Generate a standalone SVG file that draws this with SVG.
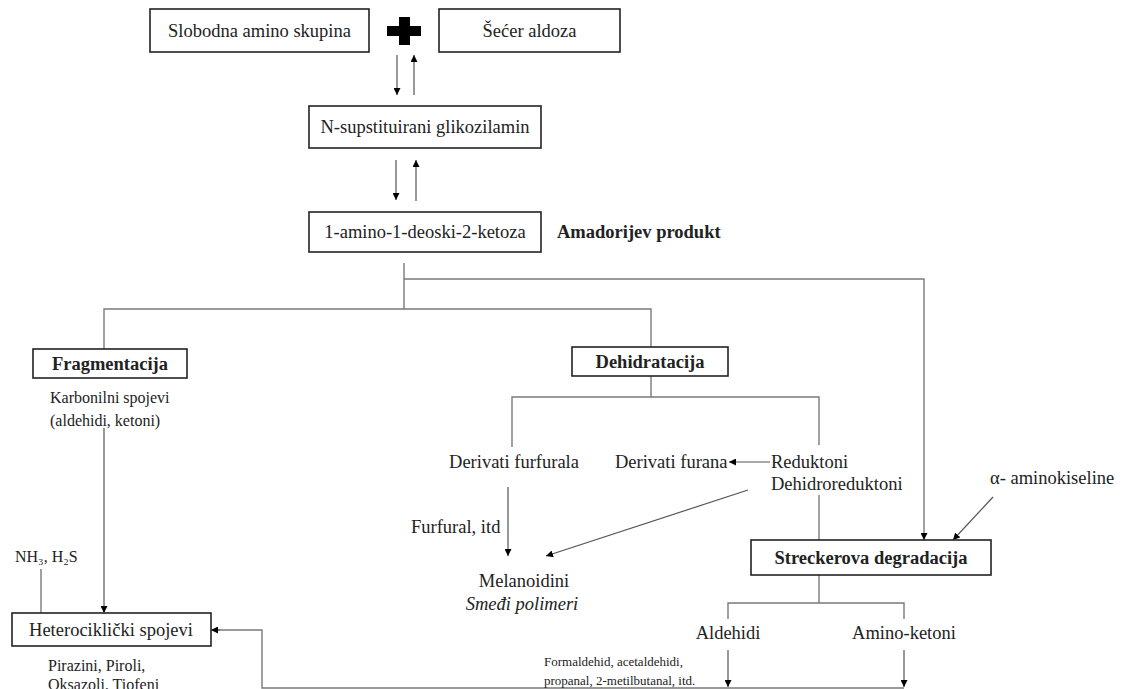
<svg xmlns="http://www.w3.org/2000/svg" width="1130" height="689" viewBox="0 0 1130 689">
<defs>
<marker id="ah" viewBox="0 0 10 10" refX="10" refY="5" markerWidth="7" markerHeight="7" markerUnits="userSpaceOnUse" orient="auto">
<path d="M0,0 L10,5 L0,10 z" fill="#000"/>
</marker>
</defs>
<style>
.box{fill:#fff;stroke:#222;stroke-width:1.6}
.t{font-family:"Liberation Serif","Times New Roman",serif;font-size:18.5px;fill:#222}
.s{font-family:"Liberation Serif","Times New Roman",serif;font-size:16px;fill:#222}
.xs{font-family:"Liberation Serif","Times New Roman",serif;font-size:13px;fill:#222}
.b{font-weight:bold}
.c{text-anchor:middle}
.ln{fill:none;stroke:#7a7a7a;stroke-width:1.4}
.ar{fill:none;stroke:#555;stroke-width:1.2;marker-end:url(#ah)}
</style>
<rect width="1130" height="689" fill="#fff"/>
<g id="connectors">
<path class="ar" d="M397,55 V95"/>
<path class="ar" d="M414,95 V55"/>
<path class="ar" d="M396,160 V200"/>
<path class="ar" d="M416,201 V160"/>
<path class="ln" d="M404,263 V309"/>
<path class="ln" d="M404,279 H924 V533"/>
<path class="ar" d="M924,533 V540"/>
<path class="ln" d="M104,349 V309 H651 V347"/>
<path class="ar" d="M104,428 V613"/>
<path class="ln" d="M41,569 V613"/>
<path class="ln" d="M651,376 V397"/>
<path class="ln" d="M512,447 V397 H819 V445"/>
<path class="ar" d="M508,487 V556"/>
<path class="ar" d="M770,462 H729"/>
<path class="ar" d="M748,490 L546,556"/>
<path class="ln" d="M819,495 V540"/>
<path class="ar" d="M993,497 L953,540"/>
<path class="ln" d="M819,575 V603 M728,619 V603 H904 V619"/>
<path class="ar" d="M728,650 V687"/>
<path class="ar" d="M904,650 V687"/>
<path class="ln" d="M904,688 H262 V630 H218"/>
<path class="ar" d="M220,630 H211"/>
</g>
<g id="n-amino">
<rect class="box" x="150" y="9" width="219" height="43"/>
<text class="t c" x="259.5" y="37">Slobodna amino skupina</text>
</g>
<g id="plus">
<path d="M399,17 H410 V26 H421 V36 H410 V45 H399 V36 H387 V26 H399 Z" fill="#000"/>
</g>
<g id="n-secer">
<rect class="box" x="439" y="9" width="181" height="43"/>
<text class="t c" x="529.5" y="37">Šećer aldoza</text>
</g>
<g id="n-glikozilamin">
<rect class="box" x="309" y="106" width="232" height="42"/>
<text class="t c" x="425" y="133">N-supstituirani glikozilamin</text>
</g>
<g id="n-ketoza">
<rect class="box" x="309" y="212" width="232" height="40"/>
<text class="t c" x="425" y="238">1-amino-1-deoski-2-ketoza</text>
<text class="t b" x="557" y="238">Amadorijev produkt</text>
</g>
<g id="n-fragmentacija">
<rect class="box" x="33" y="349" width="154" height="29"/>
<text class="t b c" x="110" y="370">Fragmentacija</text>
<text class="s" x="50" y="403">Karbonilni spojevi</text>
<text class="s" x="50" y="426">(aldehidi, ketoni)</text>
</g>
<g id="n-dehidratacija">
<rect class="box" x="572" y="347" width="156" height="29"/>
<text class="t b c" x="650" y="368">Dehidratacija</text>
</g>
<g id="n-furfurala">
<text class="t c" x="514" y="468">Derivati furfurala</text>
<text class="t" x="411" y="533">Furfural, itd</text>
</g>
<g id="n-furana">
<text class="t" x="615" y="468">Derivati furana</text>
</g>
<g id="n-reduktoni">
<text class="t" x="771" y="468">Reduktoni</text>
<text class="t" x="771" y="490">Dehidroreduktoni</text>
</g>
<g id="n-melanoidini">
<text class="t c" x="524" y="587">Melanoidini</text>
<text class="t c" x="522" y="610" font-style="italic">Smeđi polimeri</text>
</g>
<g id="n-aminokiseline">
<text class="t" x="990" y="484">α- aminokiseline</text>
</g>
<g id="n-strecker">
<rect class="box" x="751" y="540" width="240" height="35"/>
<text class="t b c" x="871" y="564">Streckerova degradacija</text>
</g>
<g id="n-aldehidi">
<text class="t c" x="728" y="639">Aldehidi</text>
<text class="xs" x="544" y="666">Formaldehid, acetaldehidi,</text>
<text class="xs" x="544" y="685">propanal, 2-metilbutanal, itd.</text>
</g>
<g id="n-aminoketoni">
<text class="t c" x="904" y="639">Amino-ketoni</text>
</g>
<g id="n-nh3">
<text class="s" x="15" y="562">NH₃, H₂S</text>
</g>
<g id="n-heterociklicki">
<rect class="box" x="12" y="613" width="199" height="33"/>
<text class="t c" x="111" y="636">Heterociklički spojevi</text>
<text class="s" x="48" y="671">Pirazini, Piroli,</text>
<text class="s" x="48" y="690">Oksazoli, Tiofeni</text>
</g>
</svg>
